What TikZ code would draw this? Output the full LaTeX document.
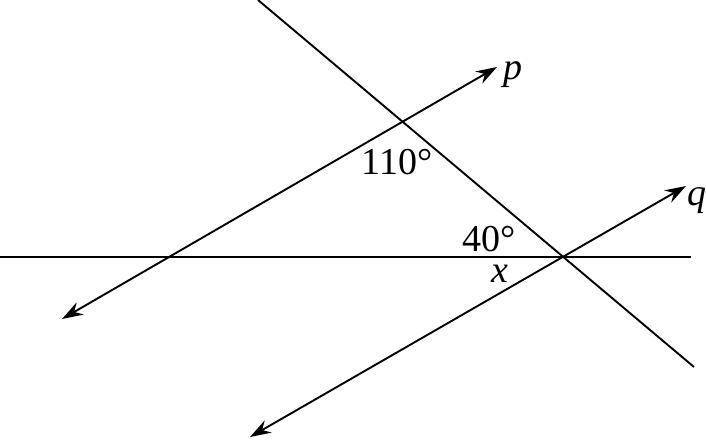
\documentclass[tikz,border=0pt]{standalone}
\usepackage{fontspec}
\setmainfont{Liberation Serif}
\usetikzlibrary{arrows.meta}
\begin{document}
\begin{tikzpicture}[x=1pt,y=-1pt,
  ln/.style={line width=1.9pt, line cap=butt},
  arr/.style={ln, {Stealth[length=21pt,width=14pt,inset=7pt]}-{Stealth[length=21pt,width=14pt,inset=7pt]}},
  lbl/.style={inner sep=0pt, font=\fontsize{38}{44}\selectfont}]
\useasboundingbox (0,0) rectangle (706,439);
\coordinate (H1) at (0,257);
\coordinate (H2) at (691,257);
\coordinate (T1) at (258,0);
\coordinate (T2) at (694,367);
\coordinate (P1) at (62,319);
\coordinate (P2) at (497,67);
\coordinate (Q1) at (250,437);
\coordinate (Q2) at (686,186);
\draw[ln] (H1) -- (H2);
\draw[ln] (T1) -- (T2);
\draw[arr] (P1) -- (P2);
\draw[arr] (Q1) -- (Q2);
\node[lbl] (lp) at (513,75) {\textit{p}};
\node[lbl] (lq) at (697,201) {\textit{q}};
\node[lbl] (a110) at (397,162) {110°};
\node[lbl] (a40) at (489,239) {40°};
\node[lbl] (lx) at (500,274) {\textit{x}};
\end{tikzpicture}
\end{document}
